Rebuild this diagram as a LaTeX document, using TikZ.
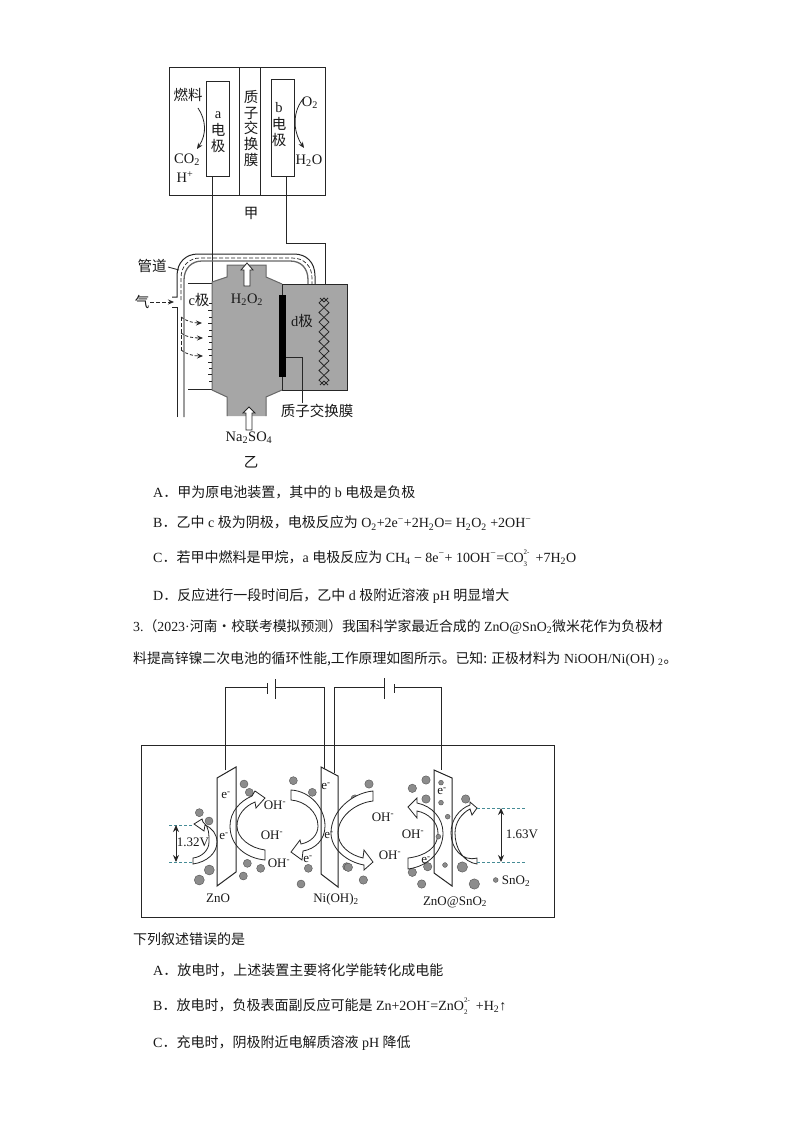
\documentclass[tikz,border=0pt]{standalone}
\usepackage{fontspec}
\setmainfont{Liberation Serif}
\newfontfamily\cjk{Noto Sans CJK SC}
\newcommand\zh[1]{{\cjk #1}}
\newcommand\dn[1]{\textsubscript{#1}}
\newcommand\up[1]{\textsuperscript{#1}}
\newcommand\stk[2]{\rlap{\raisebox{0.55em}{\fontsize{7}{7}\selectfont #1}}\raisebox{-0.3em}{\fontsize{7}{7}\selectfont #2}\hspace{0.35em}}
\definecolor{bodygray}{gray}{0.65}
\definecolor{ln}{gray}{0.15}
\definecolor{dot}{gray}{0.55}
\definecolor{teal1}{RGB}{70,140,150}
\usetikzlibrary{arrows.meta}
\tikzset{
  x=1pt,y=-1pt,
  line/.style={draw=ln,line width=1pt},
  thinl/.style={draw=ln,line width=0.8pt},
  lab/.style={inner sep=0pt,font=\fontsize{14.5}{15}\selectfont,text=black!90},
  slab/.style={inner sep=0pt,font=\fontsize{13}{14}\selectfont,text=black!90},
  para/.style={inner sep=0pt,anchor=west,font=\fontsize{14}{15}\selectfont,text=black!90},
  parb/.style={para,font=\fontsize{13.85}{15}\selectfont},
  hollow/.style={draw=ln,line width=0.8pt,fill=white},
  bluedash/.style={draw=teal1,line width=0.6pt,densely dashed},
  tip/.style={-{Stealth[length=6pt,width=5pt]},draw=ln,line width=0.8pt},
  dtip/.style={{Stealth[length=7pt,width=6pt]}-{Stealth[length=7pt,width=6pt]},draw=ln,line width=0.9pt}
}
\newcommand\bal[3]{\fill[dot,draw=ln!80,line width=0.4pt] (#1,#2) circle (#3);}
\begin{document}
\begin{tikzpicture}
\useasboundingbox[fill=white] (0,0) rectangle (794,1123);
% ---------- upper cell (jia)
\draw[line] (169,68) rectangle (325,196);
\draw[line] (239,68) -- (239,196) (260,68) -- (260,196);
\draw[line] (206,82) rectangle (229,177);
\draw[line] (271,80) rectangle (294,177);
\draw[line] (212,177) -- (212,282);
\draw[line] (286,177) -- (286,243) -- (325,243) -- (325,298);
\node[lab] (fuel) at (188,95) {\zh{燃料}};
\node[lab] (co2) at (187,160) {CO\dn{2}};
\node[lab] (hp) at (185,177) {H\up{+}};
\node[lab] (a1) at (218,115) {a};
\node[lab] (a2) at (218,130) {\zh{电}};
\node[lab] (a3) at (218,146) {\zh{极}};
\node[lab] (b1) at (279,108) {b};
\node[lab] (b2) at (279,124) {\zh{电}};
\node[lab] (b3) at (279,140) {\zh{极}};
\node[lab] (m1) at (251,97) {\zh{质}};
\node[lab] (m2) at (251,113) {\zh{子}};
\node[lab] (m3) at (251,128) {\zh{交}};
\node[lab] (m4) at (251,144) {\zh{换}};
\node[lab] (m5) at (251,160) {\zh{膜}};
\node[lab] (o2) at (310,103) {O\dn{2}};
\node[lab] (h2o) at (309,161) {H\dn{2}O};
\node[lab] (jia) at (251,213) {\zh{甲}};
\draw[tip] (198,108) .. controls (206,120) and (207,134) .. (197,149);
\draw[tip] (304,98) .. controls (293,110) and (292,130) .. (304,148);
% ---------- lower cell (yi)
\draw[line] (188,283) -- (212,283) (188,389) -- (212,389);
\draw[line,fill=bodygray] (282,284) rectangle (347,390);
\draw[fill=bodygray,draw=none] (227,265) -- (266,265) -- (266,277) -- (282,284) -- (282,390) -- (266,397) -- (266,416) -- (227,416) -- (227,397) -- (212,390) -- (212,282) -- (227,277) -- cycle;
\draw[line] (282,284) -- (282,390);
\draw[line,draw=ln!70] (227,416) -- (227,397) -- (212,390) -- (212,282) -- (227,277) -- (227,265) -- (266,265) -- (266,277) -- (282,284);
\draw[line,draw=ln!70] (282,390) -- (266,397) -- (266,416);
\foreach \yy/\ll in {303/3,310/4,317/3,323/4,330/3,336/4,342/3,349/4,355/3,362/4,368/3,374/4,381/3}
  \draw[ln,line width=0.7pt] (212,\yy) -- (212-\ll,\yy);
% pipe
\draw[line] (177,417) -- (177,307) -- (172,307);
\draw[line] (172,297) -- (177,297) -- (177,276) .. controls (177,262) and (186,254) .. (198,254) -- (294,254) .. controls (306,254) and (315,262) .. (315,276) -- (315,284);
\draw[draw=ln!70,line width=1.3pt] (184,417) -- (184,280) .. controls (184,268) and (192,261) .. (202,261) -- (290,261) .. controls (301,261) and (308,268) .. (308,280) -- (308,284);
\draw[ln,line width=0.7pt,dash pattern=on 4pt off 2pt] (181,300) -- (181,278) .. controls (181,266) and (189,258) .. (200,258) -- (292,258) .. controls (304,258) and (312,266) .. (312,278) -- (312,284);
\draw[ln,line width=0.7pt,dash pattern=on 4pt off 2pt] (181,317) -- (181,350);
\draw[tip,dash pattern=on 4pt off 2pt] (150,302) -- (174,302);
\draw[tip,dash pattern=on 3pt off 2pt] (181,317) .. controls (186,321) and (193,323) .. (202,323);
\draw[tip,dash pattern=on 3pt off 2pt] (181,333) .. controls (186,337) and (193,338) .. (203,338);
\draw[tip,dash pattern=on 3pt off 2pt] (181,350) .. controls (186,354) and (193,356) .. (203,356);
% electrode d, chain
\fill[black] (279,295) rectangle (286,377);
\draw[line] (286,357) -- (302,357) -- (302,403);
\foreach \i in {0,...,8}{
  \pgfmathsetmacro\ya{298+9.67*\i}
  \pgfmathsetmacro\yb{\ya+4.83}
  \pgfmathsetmacro\yc{\ya+9.67}
  \draw[ln,line width=0.8pt] (324,\ya) -- (329,\yb) -- (324,\yc) -- (319,\yb) -- cycle;
}
\draw[ln,line width=0.8pt] (320,298) -- (324,302) (328,298) -- (324,302) (320,385) -- (324,381) (328,385) -- (324,381);
% hollow arrows
\draw[hollow] (247,263) -- (253,270) -- (250,270) -- (250,286) -- (244,286) -- (244,270) -- (241,270) -- cycle;
\draw[hollow] (249,407) -- (255,413) -- (252,413) -- (252,430) -- (246,430) -- (246,413) -- (243,413) -- cycle;
% labels
\node[lab] (gd) at (152,266) {\zh{管道}};
\coordinate (gda) at (168,267);
\coordinate (gdb) at (179,270);
\draw[thinl] (gda) -- (gdb);
\node[lab] (qi) at (142,302) {\zh{气}};
\node[lab] (cj) at (199,300) {c\zh{极}};
\node[lab] (h2o2) at (247,300) {H\dn{2}O\dn{2}};
\node[lab] (dj) at (302,321) {d\zh{极}};
\node[lab] (zz) at (317,411) {\zh{质子交换膜}};
\node[lab] (na) at (249,438) {Na\dn{2}SO\dn{4}};
\node[lab] (yi) at (251,462) {\zh{乙}};
% ---------- question text
\node[para] (qa) at (153,492) {A\zh{．甲为原电池装置，其中的} b \zh{电极是负极}};
\node[para] (qb) at (153,523) {B\zh{．乙中} c \zh{极为阴极，电极反应为} O\dn{2}+2e\up{−}+2H\dn{2}O= H\dn{2}O\dn{2} +2OH\up{−}};
\node[para] (qc) at (153,558) {C\zh{．若甲中燃料是甲烷，}a \zh{电极反应为} CH\dn{4} − 8e\up{−}+ 10OH\up{−}=CO\stk{2-}{3} +7H\dn{2}O};
\node[para] (qd) at (153,596) {D\zh{．反应进行一段时间后，乙中} d \zh{极附近溶液} pH \zh{明显增大}};
\node[parb] (q3) at (133,627) {3.\zh{（}2023·\zh{河南·校联考模拟预测）我国科学家最近合成的} ZnO@SnO\dn{2}\zh{微米花作为负极材}};
\node[parb] (q3b) at (133,659) {\zh{料提高锌镍二次电池的循环性能,工作原理如图所示。已知: 正极材料为} NiOOH/Ni(OH) \dn{2}\zh{。}};
\node[para] (xl) at (133,939) {\zh{下列叙述错误的是}};
\node[para] (ra) at (153,970) {A\zh{．放电时，上述装置主要将化学能转化成电能}};
\node[para] (rb) at (153,1006) {B\zh{．放电时，负极表面副反应可能是} Zn+2OH\up{-}=ZnO\stk{2-}{2} +H\dn{2}↑};
\node[para] (rc) at (153,1043) {C\zh{．充电时，阴极附近电解质溶液} pH \zh{降低}};
% ---------- lower diagram
\draw[draw=ln,line width=1pt] (141,745) rectangle (554,917);
\draw[line] (225,770) -- (225,687) -- (267,687) (267,683) -- (267,694);
\draw[line] (275,679) -- (275,699) (275,687) -- (324,687) -- (324,770);
\draw[line] (334,773) -- (334,687) -- (384,687) (384,678) -- (384,699);
\draw[line] (394,684) -- (394,693) (394,687) -- (441,687) -- (441,770);
% balls
\foreach \x/\y in {342/342,358/367,208/428,237/453,352/580,392/595,340/618,490/332,547/367,535/595,513/642,650/590}{
  \pgfmathsetmacro\px{\x/3+130}\pgfmathsetmacro\py{\y/3+670}
  \bal{\px}{\py}{4}
}
\bal{209.3}{870}{5}\bal{199.3}{880}{5}
\foreach \x/\y in {87/342,45/387,25/592,70/630,217/355,258/330,258/387,377/387,217/607,263/590,245/642}{
  \pgfmathsetmacro\px{\x/3+340}\pgfmathsetmacro\py{\y/3+670}
  \bal{\px}{\py}{4.2}
}
\bal{462.3}{867}{5.2}\bal{474.3}{884}{5.2}
% plates (fill)
\fill[white] (217,778) -- (236,767) -- (236,872) -- (217,886) -- cycle;
\fill[white] (321,767) -- (338,776) -- (338,887) -- (321,874) -- cycle;
\fill[white] (434,770) -- (452,778) -- (452,886) -- (434,873) -- cycle;
% curved hollow arrows
\draw[hollow] (265,860) .. controls (245,858) and (230,845) .. (230,826) .. controls (230,812) and (240,801) .. (252,796) -- (255,791) -- (265,798) -- (256,808) -- (255,802) .. controls (245,806) and (237,815) .. (237,826) .. controls (237,838) and (250,848) .. (265,850) -- cycle;
\draw[hollow] (193,864) .. controls (207,862) and (217,853) .. (217,842) .. controls (217,834) and (212,828) .. (205,825) -- (204,831) -- (194,824) -- (202,819) -- (203,822) .. controls (209,826) and (209,834) .. (209,842) .. controls (209,850) and (202,857) .. (193,858) -- cycle;
\draw[hollow] (291,790) .. controls (310,791) and (325,808) .. (325,826) .. controls (325,840) and (315,849) .. (303,851) -- (302,860) -- (291,852) -- (300,840) -- (301,844) .. controls (311,842) and (318,835) .. (318,826) .. controls (318,812) and (305,801) .. (291,800) -- cycle;
\draw[hollow] (373,801) .. controls (355,803) and (338,817) .. (338,833) .. controls (338,846) and (350,855) .. (363,858) -- (364,850) -- (373,862) -- (364,870) -- (364,865) .. controls (347,862) and (331,849) .. (331,833) .. controls (331,811) and (352,793) .. (373,791) -- cycle;
\draw[hollow] (408,869) .. controls (430,866) and (443,850) .. (443,833) .. controls (443,818) and (432,806) .. (417,803) -- (417,798) -- (408,807) -- (417,818) -- (417,811) .. controls (428,813) and (438,822) .. (438,833) .. controls (438,848) and (425,856) .. (408,858) -- cycle;
\draw[hollow] (477,864) .. controls (463,862) and (455,848) .. (455,833) .. controls (455,822) and (462,813) .. (470,809) -- (472,815) -- (477,808) -- (470,802) -- (470,805) .. controls (459,809) and (451,820) .. (451,833) .. controls (451,848) and (462,862) .. (477,858) -- cycle;
% plates (outline)
\draw[line] (217,778) -- (236,767) -- (236,872) -- (217,886) -- cycle;
\draw[line] (321,767) -- (338,776) -- (338,887) -- (321,874) -- cycle;
\draw[line] (434,770) -- (452,778) -- (452,886) -- (434,873) -- cycle;
% small dots in plate
\foreach \x/\y in {303/338,303/398,323/440,295/500,315/585}{
  \pgfmathsetmacro\px{\x/3+340}\pgfmathsetmacro\py{\y/3+670}
  \bal{\px}{\py}{2.4}
}
\bal{495.7}{880}{2.4}
% voltage marks
\draw[bluedash] (169,825) -- (193,825) (169,862) -- (193,862);
\draw[dtip] (176,825) -- (176,862);
\draw[bluedash] (477,808) -- (525,808) (477,862) -- (525,862);
\draw[dtip] (501,808) -- (501,862);
\node[slab] (v1) at (193,842) {1.32V};
\node[slab] (v2) at (522,834) {1.63V};
% ions
\node[slab] (oh1) at (275,805) {OH\up{-}};
\node[slab] (oh2) at (272,835) {OH\up{-}};
\node[slab] (oh3) at (279,863) {OH\up{-}};
\node[slab] (oh4) at (383,817) {OH\up{-}};
\node[slab] (oh5) at (390,855) {OH\up{-}};
\node[slab] (oh6) at (413,834) {OH\up{-}};
\node[slab] (e1) at (226,795) {e\up{-}};
\node[slab] (e2) at (224,836) {e\up{-}};
\node[slab] (e3) at (326,786) {e\up{-}};
\node[slab] (e4) at (329,835) {e\up{-}};
\node[slab] (e5) at (308,859) {e\up{-}};
\node[slab] (e6) at (442,791) {e\up{-}};
\node[slab] (e7) at (426,860) {e\up{-}};
\node[slab] (zno) at (218,898) {ZnO};
\node[slab] (ni) at (336,899) {Ni(OH)\dn{2}};
\node[slab] (zs) at (455,902) {ZnO@SnO\dn{2}};
\node[slab] (sn) at (516,881) {SnO\dn{2}};
\end{tikzpicture}
\end{document}
